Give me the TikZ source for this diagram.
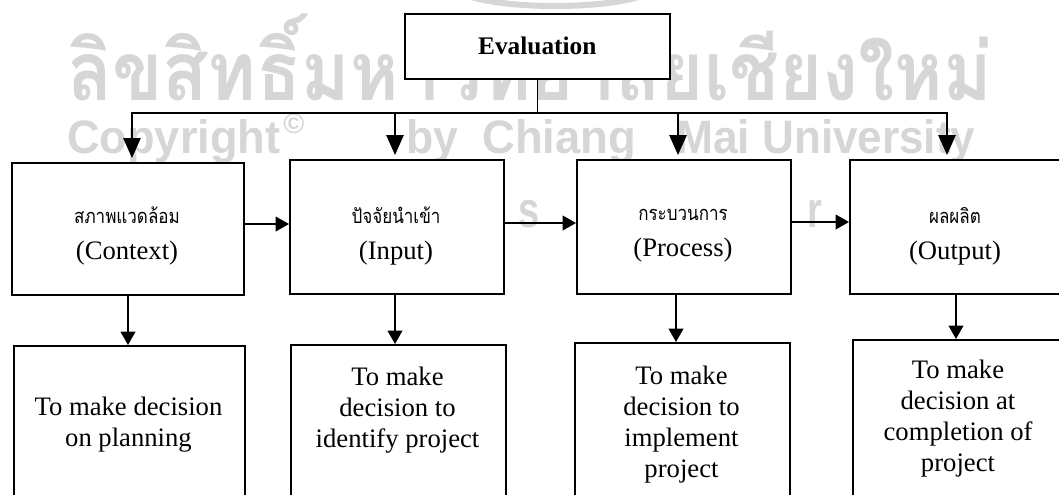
\documentclass[tikz,border=0pt]{standalone}
\usepackage{fontspec}
\usepackage{graphicx}
\setmainfont{Liberation Serif}
\newfontfamily\thaifont[Script=Thai]{Loma}
\newfontfamily\wmsans{Liberation Sans}
\usetikzlibrary{arrows.meta}
\definecolor{wmgray}{gray}{0.84}
\newcommand{\thailab}[1]{\scalebox{0.85}[1]{\thaifont\fontsize{15}{17}\selectfont #1}}
\newcommand{\wmword}[2]{\resizebox{#1}{25.5pt}{\wmsans\bfseries #2}}
\begin{document}
\begin{tikzpicture}[x=0.75pt,y=-0.75pt,
  box/.style={draw, line width=1.2pt, fill=white, inner sep=0pt, anchor=north west},
  lab/.style={align=center, inner sep=0pt, font=\fontsize{20}{23.25}\selectfont},
  link/.style={line width=1.2pt},
  arrT/.style={link, -{Triangle[length=15pt,width=13pt]}, shorten >=3pt},
  arr/.style={link, -{Triangle[length=10pt,width=11pt]}},
  wm/.style={text=wmgray, inner sep=0pt, anchor=base west}]
\useasboundingbox (0,0) rectangle (1059,494);
\clip (0,0) rectangle (1059,494);
\fill[white] (0,0) rectangle (1059,494);
% ---- watermark ----
\draw[wmgray, line width=4.5pt] (555,-14) ellipse [x radius=100, y radius=20];
\node[wm] (wmth) at (67,100) {\resizebox{693.75pt}{65pt}{\thaifont\bfseries ลิขสิทธิ์มหาวิทยาลัยเชียงใหม่}};
\node[wm] (wmc1) at (67,153) {\wmword{159.75pt}{Copyright}};
\node[wm, anchor=north west] (wmc2) at (283,113) {\resizebox{15.75pt}{!}{\wmsans\bfseries ©}};
\node[wm] (wmc3) at (406,153) {\wmword{39pt}{by}};
\node[wm] (wmc4) at (482,153) {\wmword{115.5pt}{Chiang}};
\node[wm] (wmc5) at (676,153) {\wmword{55.5pt}{Mai}};
\node[wm] (wmc6) at (762,153) {\wmword{159.75pt}{University}};
\foreach \ch/\xx in {A/94,l/139,l/184,r/293,i/338,g/383,h/428,t/473,s/518,r/627,e/672,s/717,e/762,r/807,v/852,e/897,d/942}
  \node[wm] (wmar-\xx) at (\xx,227) {\scalebox{0.75}[1]{\wmsans\bfseries\fontsize{38}{40}\selectfont\ch}};
% ---- boxes ----
\node[box, minimum width=198.75pt, minimum height=48.75pt, font=\bfseries\fontsize{19}{22}\selectfont] (eval) at (404,13) {Evaluation};
\node[box, minimum width=174pt, minimum height=99pt] (ctx) at (11,162) {};
\node[box, minimum width=160.5pt, minimum height=100.5pt] (inp) at (289,159) {};
\node[box, minimum width=160.5pt, minimum height=100.5pt] (proc) at (576,159) {};
\node[box, minimum width=159.75pt, minimum height=100.5pt] (outp) at (849,159) {};
\node[box, minimum width=173.25pt, minimum height=150pt] (ctxB) at (13,345) {};
\node[box, minimum width=161.25pt, minimum height=150pt] (inpB) at (290,344) {};
\node[box, minimum width=161.25pt, minimum height=150pt] (procB) at (574,342) {};
\node[box, minimum width=159pt, minimum height=150pt] (outpB) at (852,339) {};
% ---- labels ----
\node[lab] (ctxL) at (127,236) {\thailab{สภาพแวดล้อม}\\[4pt](Context)};
\node[lab] (inpL) at (396,236) {\thailab{ปัจจัยนำเข้า}\\[4pt](Input)};
\node[lab] (procL) at (683,236) {\thailab{กระบวนการ}\\[4pt](Process)};
\node[lab] (outpL) at (955,236) {\thailab{ผลผลิต}\\[4pt](Output)};
\node[lab] (ctxBL) at (128.5,425) {To make decision\\on planning};
\node[lab] (inpBL) at (397.5,410) {To make\\decision to\\identify project};
\node[lab] (procBL) at (681.5,425) {To make\\decision to\\implement\\project};
\node[lab] (outpBL) at (958,419) {To make\\decision at\\completion of\\project};
% ---- connectors ----
\coordinate (jn) at (eval.south |- 0,113);
\coordinate (b1) at (132,113);
\coordinate (b2) at (395,113);
\coordinate (b3) at (678,113);
\coordinate (b4) at (947,113);
\draw[link] (eval.south) -- (jn);
\draw[link, line cap=rect] (b1) -- (b4);
\draw[arrT] (b1) -- (b1 |- ctx.north);
\draw[arrT] (b2) -- (b2 |- inp.north);
\draw[arrT] (b3) -- (b3 |- proc.north);
\draw[arrT] (b4) -- (b4 |- outp.north);
\draw[arr] (ctx.east |- 0,224) -- (inp.west |- 0,224);
\draw[arr] (inp.east |- 0,223) -- (proc.west |- 0,223);
\draw[arr] (proc.east |- 0,222) -- (outp.west |- 0,222);
\draw[arr] (ctx.south -| 128,0) -- (ctxB.north -| 128,0);
\draw[arr] (inp.south -| 395,0) -- (inpB.north -| 395,0);
\draw[arr] (proc.south -| 676,0) -- (procB.north -| 676,0);
\draw[arr] (outp.south -| 956,0) -- (outpB.north -| 956,0);
\end{tikzpicture}
\end{document}
